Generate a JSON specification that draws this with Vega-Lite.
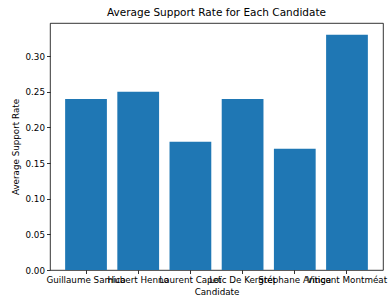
{
  "$schema": "https://vega.github.io/schema/vega-lite/v6.json",
  "width": 333,
  "height": 247,
  "autosize": {"type": "none"},
  "padding": {"left": 50, "top": 23, "right": 5, "bottom": 30},
  "title": {"text": "Average Support Rate for Each Candidate", "font": "DejaVu Sans", "fontSize": 10.5, "fontWeight": "normal", "color": "#000", "offset": 5},
  "data": {"values": [
    {"candidate": "Guillaume Samica", "rate": 0.24},
    {"candidate": "Hubert Henno", "rate": 0.25},
    {"candidate": "Laurent Capet", "rate": 0.18},
    {"candidate": "Loïc De Kergret", "rate": 0.24},
    {"candidate": "Stéphane Antiga", "rate": 0.17},
    {"candidate": "Vincent Montméat", "rate": 0.33}
  ]},
  "config": {
    "view": {"stroke": "#000", "strokeWidth": 0.8},
    "axis": {"labelFont": "DejaVu Sans", "titleFont": "DejaVu Sans", "labelFontSize": 8.75, "titleFontSize": 8.75, "titleFontWeight": "normal", "labelColor": "#000", "titleColor": "#000", "tickColor": "#000", "domain": false, "grid": false, "tickSize": 3.5, "tickWidth": 0.8}
  },
  "mark": {"type": "bar", "color": "#1f77b4"},
  "encoding": {
    "x": {"field": "candidate", "type": "nominal", "sort": null, "title": "Candidate",
      "scale": {"paddingInner": 0.2, "paddingOuter": 0.29},
      "axis": {"labelAngle": 0, "labelOverlap": false, "labelPadding": 2, "titlePadding": 3}},
    "y": {"field": "rate", "type": "quantitative", "title": "Average Support Rate",
      "scale": {"domain": [0, 0.3465], "nice": false},
      "axis": {"values": [0, 0.05, 0.1, 0.15, 0.2, 0.25, 0.3], "format": ".2f", "labelPadding": 2, "titlePadding": 5}}
  }
}
